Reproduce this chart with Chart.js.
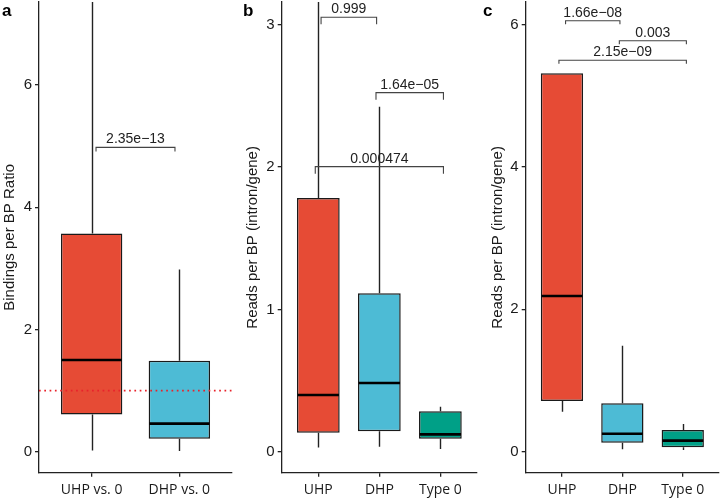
<!DOCTYPE html>
<html><head><meta charset="utf-8">
<script src="https://cdn.jsdelivr.net/npm/chart.js@4/dist/chart.umd.min.js"></script>
<style>
html,body{margin:0;padding:0;background:#fff;}
#wrap{position:relative;width:720px;height:502px;overflow:hidden;background:#fff;}
canvas{position:absolute;top:0;}
</style></head><body>
<div id="wrap">
<canvas id="ca" width="240" height="502" style="left:0px"></canvas>
<canvas id="cb" width="240" height="502" style="left:240px"></canvas>
<canvas id="cc" width="240" height="502" style="left:480px"></canvas>
</div>
<script>
const COLORS = ['#E64B35', '#4DBBD5', '#00A087'];

// ---- Panel a ----
const catsA = ['UHP vs. 0', 'DHP vs. 0'];
const lowA  = [0.02, 0.01];
const q1A   = [0.61, 0.21];
const medA  = [1.50, 0.46];
const q3A   = [3.57, 1.49];
const highA = [7.8, 2.98];
const yTicksA = [0, 2, 4, 6];
const refLineA = 1;
const brLabelsA = ['2.35e\u221213'];
const brYA = [4.98];
const brFromA = [1.05];
const brToA = [1.95];

// ---- Panel b ----
const catsB = ['UHP', 'DHP', 'Type 0'];
const lowB  = [0.03, 0.035, 0.019];
const q1B   = [0.134, 0.143, 0.091];
const medB  = [0.398, 0.483, 0.122];
const q3B   = [1.783, 1.113, 0.284];
const highB = [3.4, 2.424, 0.316];
const yTicksB = [0, 1, 2, 3];
const brLabelsB = ['0.999', '1.64e\u221205', '0.000474'];
const brYB = [3.053, 2.523, 2.003];
const brFromB = [1.045, 1.945, 0.95];
const brToB = [1.955, 3.05, 3.05];

// ---- Panel c ----
const catsC = ['UHP', 'DHP', 'Type 0'];
const lowC  = [0.562, 0.033, 0.024];
const q1C   = [0.712, 0.126, 0.062];
const medC  = [2.187, 0.253, 0.155];
const q3C   = [5.315, 0.680, 0.305];
const highC = [5.315, 1.489, 0.389];
const yTicksC = [0, 2, 4, 6];
const brLabelsC = ['1.66e\u221208', '0.003', '2.15e\u221209'];
const brYC = [6.053, 5.772, 5.497];
const brFromC = [1.06, 1.95, 0.95];
const brToC = [1.96, 3.06, 3.06];

function extrasPlugin(p) {
  return {
    id: 'boxExtras',
    beforeDatasetsDraw(chart) {
      const {ctx, chartArea: a, scales: {x, y}} = chart;
      ctx.save();
      ctx.beginPath();
      ctx.rect(a.left, a.top, a.right - a.left, a.bottom - a.top);
      ctx.clip();
      ctx.strokeStyle = '#222';
      ctx.lineWidth = 1.4;
      p.low.forEach((lo, i) => {
        const px = Math.round(x.getPixelForValue(i + 1)) + 0.5;
        ctx.beginPath();
        ctx.moveTo(px, y.getPixelForValue(p.high[i]));
        ctx.lineTo(px, y.getPixelForValue(p.q3[i]));
        ctx.moveTo(px, y.getPixelForValue(p.q1[i]));
        ctx.lineTo(px, y.getPixelForValue(lo));
        ctx.stroke();
      });
      ctx.restore();
    },
    afterDatasetsDraw(chart) {
      const {ctx, chartArea: a, scales: {x, y}} = chart;
      const meta = chart.getDatasetMeta(0);
      ctx.save();
      // medians
      ctx.strokeStyle = '#000';
      ctx.lineWidth = 2.6;
      p.med.forEach((m, i) => {
        const el = meta.data[i];
        const py = y.getPixelForValue(m);
        ctx.beginPath();
        ctx.moveTo(el.x - el.width / 2 + 0.7, py);
        ctx.lineTo(el.x + el.width / 2 - 0.7, py);
        ctx.stroke();
      });
      // reference line
      if (p.ref !== undefined) {
        const py = y.getPixelForValue(p.ref);
        ctx.strokeStyle = '#E8222B';
        ctx.lineWidth = 1.7;
        ctx.setLineDash([1.7, 3.6]);
        ctx.beginPath();
        ctx.moveTo(a.left, py);
        ctx.lineTo(a.right, py);
        ctx.stroke();
        ctx.setLineDash([]);
      }
      // brackets
      ctx.strokeStyle = '#444';
      ctx.lineWidth = 1.1;
      ctx.fillStyle = '#222';
      ctx.font = '14px "Liberation Sans", Arial, sans-serif';
      ctx.textAlign = 'center';
      ctx.textBaseline = 'alphabetic';
      p.brLabels.forEach((lab, k) => {
        const y0 = y.getPixelForValue(p.brY[k]);
        const yt = y.getPixelForValue(p.brY[k] - p.tip);
        const x0 = x.getPixelForValue(p.brFrom[k]);
        const x1 = x.getPixelForValue(p.brTo[k]);
        ctx.beginPath();
        ctx.moveTo(x0, yt);
        ctx.lineTo(x0, y0);
        ctx.lineTo(x1, y0);
        ctx.lineTo(x1, yt);
        ctx.stroke();
        ctx.fillText(lab, (x0 + x1) / 2, y0 - 4);
      });
      ctx.restore();
    },
    afterDraw(chart) {
      const ctx = chart.ctx;
      ctx.save();
      ctx.fillStyle = '#000';
      ctx.font = 'bold 17px "Liberation Sans", Arial, sans-serif';
      ctx.textAlign = 'left';
      ctx.textBaseline = 'alphabetic';
      ctx.fillText(p.panel, p.panelX, 16);
      ctx.restore();
    }
  };
}

function makePanel(id, p) {
  const n = p.cats.length;
  return new Chart(document.getElementById(id), {
    type: 'bar',
    data: {
      datasets: [{
        data: p.cats.map((c, i) => ({x: i + 1, y: [p.q1[i], p.q3[i]]})),
        backgroundColor: COLORS.slice(0, n),
        borderColor: '#1a1a1a',
        borderWidth: 1.5,
        borderSkipped: false,
        categoryPercentage: 1,
        barPercentage: 0.7
      }]
    },
    options: {
      responsive: false,
      animation: false,
      devicePixelRatio: 1,
      layout: {padding: {top: 2, right: p.padRight, left: 0, bottom: 0}},
      plugins: {legend: {display: false}, tooltip: {enabled: false}},
      scales: {
        x: {
          type: 'linear', min: 0.4, max: n + 0.6, offset: false,
          afterBuildTicks: s => { s.ticks = p.cats.map((c, i) => ({value: i + 1})); },
          afterFit: s => { s.height = 29.3; s.paddingLeft = 0; s.paddingRight = 0; },
          ticks: {
            autoSkip: false, maxRotation: 0, minRotation: 0, padding: 5,
            color: '#1a1a1a',
            font: {family: '"Open Sans", sans-serif', size: 14},
            callback: v => p.cats[Math.round(v) - 1]
          },
          grid: {display: true, offset: false, drawOnChartArea: false, drawTicks: true, tickLength: 4, color: '#222', lineWidth: 1.3},
          border: {display: true, color: '#222', width: 1.3}
        },
        y: {
          type: 'linear', min: p.yMin, max: p.yMax,
          afterBuildTicks: s => { s.ticks = p.yTicks.map(v => ({value: v})); },
          afterFit: s => { s.width = p.axisW; s.paddingTop = 0; s.paddingBottom = 0; },
          ticks: {
            padding: 3, color: '#1a1a1a',
            font: {family: '"Liberation Sans", Arial, sans-serif', size: 15},
            callback: v => String(v)
          },
          grid: {display: true, drawOnChartArea: false, drawTicks: true, tickLength: 4, color: '#222', lineWidth: 1.3},
          border: {display: true, color: '#222', width: 1.3},
          title: {
            display: true, text: p.yTitle, color: '#1a1a1a',
            font: {family: '"Liberation Sans", Arial, sans-serif', size: 15},
            padding: {top: p.titlePad, bottom: 0}
          }
        }
      }
    },
    plugins: [extrasPlugin(p)]
  });
}

makePanel('ca', {
  cats: catsA, low: lowA, q1: q1A, med: medA, q3: q3A, high: highA,
  yTicks: yTicksA, yMin: -0.344, yMax: 7.36, ref: refLineA,
  brLabels: brLabelsA, brY: brYA, brFrom: brFromA, brTo: brToA, tip: 0.065,
  yTitle: 'Bindings per BP Ratio', axisW: 39, padRight: 8, titlePad: 0.5,
  panel: 'a', panelX: 2
});
makePanel('cb', {
  cats: catsB, low: lowB, q1: q1B, med: medB, q3: q3B, high: highB,
  yTicks: yTicksB, yMin: -0.1475, yMax: 3.16,
  brLabels: brLabelsB, brY: brYB, brFrom: brFromB, brTo: brToB, tip: 0.05,
  yTitle: 'Reads per BP (intron/gene)', axisW: 41.7, padRight: 3, titlePad: 4,
  panel: 'b', panelX: 3
});
makePanel('cc', {
  cats: catsC, low: lowC, q1: q1C, med: medC, q3: q3C, high: highC,
  yTicks: yTicksC, yMin: -0.295, yMax: 6.316,
  brLabels: brLabelsC, brY: brYC, brFrom: brFromC, brTo: brToC, tip: 0.05,
  yTitle: 'Reads per BP (intron/gene)', axisW: 45.7, padRight: 1, titlePad: 9,
  panel: 'c', panelX: 3
});
</script>
</body></html>
